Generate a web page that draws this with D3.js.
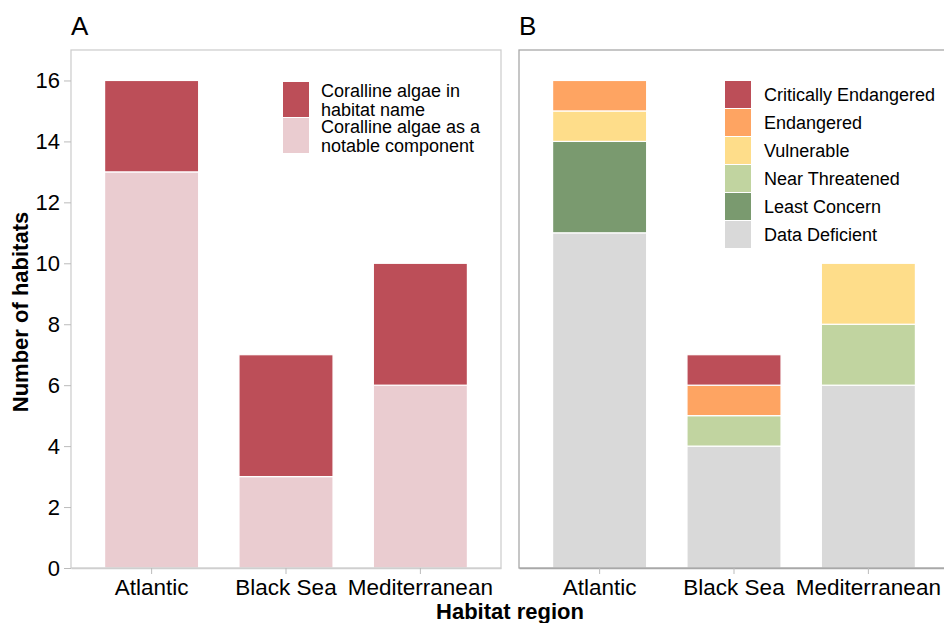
<!DOCTYPE html>
<html>
<head>
<meta charset="utf-8">
<script src="https://cdn.jsdelivr.net/npm/d3@7"></script>
<style>
  body { margin: 0; background: #fff; }
  text { font-family: "Liberation Sans", Arial, Helvetica, sans-serif; }
</style>
</head>
<body>
<script>
// data
var regions = ['Atlantic', 'Black Sea', 'Mediterranean']

// panel A
var typeKeys = ['Coralline algae as a notable component', 'Coralline algae in habitat name']
var notableComponent = [13, 3, 6]
var inHabitatName = [3, 4, 4]

// panel B
var statusKeys = ['Data Deficient', 'Least Concern', 'Near Threatened', 'Vulnerable', 'Endangered', 'Critically Endangered']
var dataDeficient = [11, 4, 6]
var leastConcern = [3, 0, 0]
var nearThreatened = [0, 1, 2]
var vulnerable = [1, 0, 2]
var endangered = [1, 1, 0]
var criticallyEndangered = [0, 1, 0]

var yTicks = [0, 2, 4, 6, 8, 10, 12, 14, 16]

var w = 944
var h = 623
var plotTop = 50
var plotBottom = 568
var panelW = 430
var panelAX = 71
var panelBX = 519

var svg = d3.select('body')
  .append('svg')
  .attr('width', w)
  .attr('height', h)

var yScale = d3.scaleLinear()
  .domain([0, 17])
  .range([plotBottom, plotTop])

var colorA = d3.scaleOrdinal()
  .domain(typeKeys)
  .range(['#eaccd0', '#bc4e58'])

var colorB = d3.scaleOrdinal()
  .domain(statusKeys)
  .range(['#d9d9d9', '#7a9a6f', '#c1d4a0', '#fedd8a', '#fea462', '#bc4e58'])

// build table rows for stacking
var rowsA = regions.map(function (r, i) {
  var o = { region: r }
  o[typeKeys[0]] = notableComponent[i]
  o[typeKeys[1]] = inHabitatName[i]
  return o
})
var seriesB = [dataDeficient, leastConcern, nearThreatened, vulnerable, endangered, criticallyEndangered]
var rowsB = regions.map(function (r, i) {
  var o = { region: r }
  statusKeys.forEach(function (k, j) { o[k] = seriesB[j][i] })
  return o
})

function drawPanel (x0, rows, keys, color, showY, frameColor) {
  var g = svg.append('g')

  var xScale = d3.scaleBand()
    .domain(regions)
    .range([x0, x0 + panelW])
    .paddingInner(0.3)
    .paddingOuter(0.25)

  var stacked = d3.stack().keys(keys)(rows)

  g.selectAll('g.layer')
    .data(stacked)
    .enter()
    .append('g')
    .attr('fill', function (d) { return color(d.key) })
    .selectAll('rect')
    .data(function (d) { return d.filter(function (s) { return s[1] > s[0] }) })
    .enter()
    .append('rect')
    .attr('x', function (d) { return xScale(d.data.region) })
    .attr('y', function (d) { return yScale(d[1]) })
    .attr('width', xScale.bandwidth())
    .attr('height', function (d) { return yScale(d[0]) - yScale(d[1]) })
    .attr('stroke', '#fff')
    .attr('stroke-width', 1.2)

  // frame
  g.append('rect')
    .attr('x', x0)
    .attr('y', plotTop)
    .attr('width', panelW)
    .attr('height', plotBottom - plotTop)
    .attr('fill', 'none')
    .attr('stroke', frameColor)
    .attr('stroke-width', 1.3)

  // x axis
  var xAxis = g.append('g')
    .attr('transform', 'translate(0,' + plotBottom + ')')
    .call(d3.axisBottom(xScale).tickSizeInner(6).tickSizeOuter(0).tickPadding(5))
  xAxis.select('.domain').attr('stroke', frameColor).attr('stroke-width', 1.3)
  xAxis.selectAll('.tick line').attr('stroke', '#bbb')
  xAxis.selectAll('text')
    .attr('font-size', '22.5px')
    .attr('fill', '#000')
    .attr('font-family', '"Liberation Sans", Arial, sans-serif')

  if (showY) {
    var yAxis = g.append('g')
      .attr('transform', 'translate(' + x0 + ',0)')
      .call(d3.axisLeft(yScale).tickValues(yTicks).tickSize(7).tickPadding(4))
    yAxis.select('.domain').remove()
    yAxis.selectAll('.tick line').attr('stroke', '#bbb')
    yAxis.selectAll('text')
      .attr('font-size', '22px')
      .attr('fill', '#000')
      .attr('font-family', '"Liberation Sans", Arial, sans-serif')
  }
  return g
}

drawPanel(panelAX, rowsA, typeKeys, colorA, true, '#cfcfcf')
drawPanel(panelBX, rowsB, statusKeys, colorB, false, '#a8a8a8')

// panel letters
svg.append('text').text('A')
  .attr('x', panelAX).attr('y', 35)
  .attr('font-size', '26px')
svg.append('text').text('B')
  .attr('x', panelBX).attr('y', 35)
  .attr('font-size', '26px')

// legend A
var legA = svg.append('g')
var legAItems = [
  { key: typeKeys[1], lines: ['Coralline algae in', 'habitat name'] },
  { key: typeKeys[0], lines: ['Coralline algae as a', 'notable component'] }
]
legAItems.forEach(function (d, i) {
  var y0 = 82 + i * 36
  legA.append('rect')
    .attr('x', 283).attr('y', y0)
    .attr('width', 26).attr('height', 35)
    .attr('fill', colorA(d.key))
  d.lines.forEach(function (l, j) {
    legA.append('text').text(l)
      .attr('x', 321).attr('y', y0 + 15 + j * 18.5)
      .attr('font-size', '18px')
  })
})

// legend B
var legB = svg.append('g')
statusKeys.slice().reverse().forEach(function (k, i) {
  var y0 = 81 + i * 28
  legB.append('rect')
    .attr('x', 725).attr('y', y0)
    .attr('width', 26).attr('height', 27)
    .attr('fill', colorB(k))
  legB.append('text').text(k)
    .attr('x', 764).attr('y', y0 + 20)
    .attr('font-size', '18px')
})

// axis titles
svg.append('text').text('Habitat region')
  .attr('x', 510).attr('y', 619)
  .attr('text-anchor', 'middle')
  .attr('font-weight', 'bold')
  .attr('font-size', '22px')

svg.append('text').text('Number of habitats')
  .attr('transform', 'translate(28,312) rotate(-90)')
  .attr('text-anchor', 'middle')
  .attr('font-weight', 'bold')
  .attr('font-size', '22px')
</script>
</body>
</html>
